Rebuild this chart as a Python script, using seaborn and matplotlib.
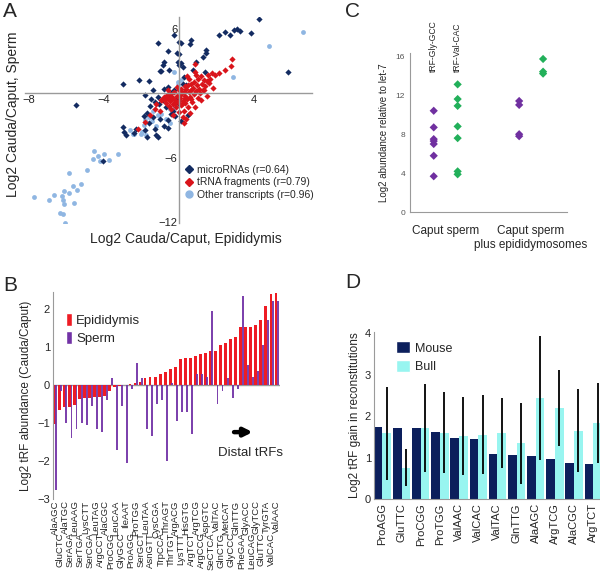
import numpy as np
import pandas as pd
import seaborn as sns
import matplotlib.pyplot as plt
from matplotlib.lines import Line2D
from matplotlib.patches import Patch

sns.set_style("white")
plt.rcParams['font.family'] = ['Liberation Sans', 'DejaVu Sans']

# === Panel A: log2 cauda/caput, epididymis (x) vs sperm (y)
mirna_x = [4.28, 2.15, 2.45, 2.72, 2.92, 3.10, 3.27, 3.84, 5.80, -0.28, -1.10, 0.02, 0.12, 0.64, 0.57,
           -0.57, -0.09, 0.02, -0.07, 0.10, 1.44, 1.44, 1.30, -0.78, -0.87, -0.96, -0.52, 0.02, 0.20, 0.91,
           0.73, 1.37, 0.28, -1.40, -0.78, 0.20, 0.37, -3.00, -2.15, -1.62, -1.00, -1.80, -0.60, -0.40, -5.49,
           -3.00, -2.91, -2.82, -2.29, -2.38, -1.80, -1.70, -1.60, -1.70, -1.88, -1.55, -1.36, -1.27, -1.20, -1.10,
           -1.00, -0.78, -0.60, -0.43, -0.30, -0.87, -1.05, -1.27, -1.10, -0.50, -4.04, -0.20, 0.10, -0.60, -0.15,
           0.00, -0.70, -1.50, 0.50, -0.25]
mirna_y = [6.88, 5.40, 5.70, 5.46, 5.90, 5.95, 5.80, 5.65, 2.00, 5.46, 4.70, 4.77, 4.72, 4.99, 4.62,
           3.94, 3.79, 3.65, 2.92, 2.80, 4.06, 3.75, 3.40, 2.92, 2.60, 2.08, 2.20, 2.60, 2.45, 2.92,
           2.14, 1.98, 1.52, 0.28, 0.44, 0.90, 0.75, 0.90, 1.27, 1.12, 2.05, -0.12, 0.60, 0.05, -1.12,
           -3.13, -3.60, -3.90, -3.28, -3.69, -3.40, -4.10, -2.80, -1.80, -2.10, -1.20, -2.20, -3.28, -3.90, -4.10,
           -2.35, -3.07, -2.50, -1.90, -1.60, -0.65, -0.96, -0.80, -0.30, -0.20, -6.33, -2.10, -2.60, -3.20, -0.50,
           -1.00, -1.30, -0.50, -2.00, 0.30]

trf_x = [2.85, 2.76, 2.45, 2.13, 1.90, 1.77, 1.55, 1.68, 1.50, 1.24, 1.37, 0.85, 0.85, 0.43, 0.55, 0.82,
         0.98, 1.08, 1.35, 1.80, 0.28, 0.64, 1.60, 1.33, 0.46,
         -0.90, -0.80, -0.70, -0.60, -0.55, -0.50, -0.45, -0.40, -0.35, -0.30, -0.25, -0.20, -0.15, -0.10,
         -0.05, 0.00, 0.05, 0.10, 0.15, 0.20, 0.25, 0.30, 0.35, 0.40, 0.45, 0.50, 0.55, 0.60, 0.70, 0.75,
         0.80, 0.90, 1.00, 1.10, 1.20, 1.30, 0.20, 0.27, 0.40, 0.60, -0.96, -1.20, -1.00, -0.30, 0.00, 0.85,
         1.50, 0.65, 0.30, -0.10, -0.60, 1.00, 1.20, 0.90, -2.16, -1.80, -1.55, -1.30,
         -0.65, -0.35, 0.05, 0.35, 0.15, -0.20, 0.65, -0.75, 0.10]
trf_y = [3.22, 2.51, 2.14, 1.89, 1.68, 1.89, 1.68, 1.37, 1.14, 0.83, 0.65, 2.76, 1.99, 1.58, 1.37, 1.05,
         0.74, 0.43, 0.28, 0.52, 0.12, 0.28, 0.96, 1.27, 0.74,
         -0.60, -0.30, -0.90, -0.40, -1.20, -0.10, -0.70, -1.50, -0.30, -1.00, 0.10, -0.60, -1.30, -0.20,
         -0.80, 0.30, -0.40, -1.10, 0.00, -0.70, -1.60, -0.20, -0.90, 0.40, -0.50, -1.30, 0.10, -0.30, -0.80, 0.50,
         -0.10, 0.20, -0.40, 0.00, -0.60, 0.30, -2.20, -2.80, -2.40, -1.80, -0.65, -1.00, -1.60, -2.00, -1.70, -1.30,
         -0.20, 0.90, 0.70, 0.60, 0.30, 1.30, 1.60, 1.70, -3.28, -2.66, -2.00, -1.50,
         -0.15, -0.55, -0.15, -0.45, -0.95, -0.90, -0.55, -0.60, 0.45]

other_x = [-4.55, -4.60, -4.30, -4.00, -4.20, -3.72, -3.24, -5.85, -4.91, -7.75, -6.91, -6.65, -6.26, -6.12,
           -6.20, -5.85, -6.15, -5.64, -5.45, -5.23, -5.57, -6.33, -6.17, -6.06,
           -1.60, -1.80, -1.88, -1.97, -1.77, -2.38, -2.47, -2.03, -1.36, -1.10, -0.96, -0.69, -0.45, -0.28,
           -0.20, -0.07, 0.10, -0.28, 2.88, 4.80, 6.60, -0.07, -1.20, -0.50, -1.45, -2.60]
other_y = [-5.37, -6.08, -5.86, -5.67, -6.30, -6.17, -5.61, -7.41, -7.16, -9.64, -9.95, -9.49, -9.58, -9.08,
           -9.95, -9.27, -10.32, -8.65, -9.02, -8.46, -10.20, -11.10, -11.20, -12.10,
           -2.20, -2.50, -2.98, -3.60, -3.90, -3.75, -3.75, -3.75, -1.60, -2.05, -1.90, -2.35, -1.50, -1.12,
           -1.30, 0.78, 1.24, 2.00, 1.52, 4.40, 5.70, 1.05, -3.00, -2.80, -2.60, -3.40]

# === Panel B: tRF abundance cauda/caput
trf_names = ["AlaAGC", "GluCTC", "AlaTGC", "SerAGA", "LeuAAG", "SerTGA", "LysCTT", "SerCGA", "LeuTAG",
             "ArgCCT", "AlaCGC", "ProCGG", "LeuCAA", "GlyGCC", "IleAAT", "ProAGG", "ProTGG", "SerGCT",
             "LeuTAA", "AsnGTT", "CysCGA", "TrpCCA", "ThrAGT", "ThrTGT", "ArgACG", "LysTTT", "HisGTG",
             "ArgTCT", "ArgTCG", "ArgCCG", "AspGTC", "SeCTCA", "ValTAC", "GlnCTG", "MetCAT", "GlyCCC",
             "GlnTTG", "PheGAA", "GlyACC", "LeuCAG", "GlyTCC", "GluTTC", "TyrGTA", "ValCAC", "ValAAC"]
epi_vals = [-1.03, -0.65, -0.58, -0.57, -0.53, -0.37, -0.35, -0.33, -0.32, -0.31, -0.30, -0.15, -0.06,
            -0.02, 0.00, 0.02, 0.05, 0.08, 0.17, 0.20, 0.22, 0.30, 0.35, 0.42, 0.47, 0.67, 0.70, 0.70,
            0.75, 0.82, 0.85, 0.90, 0.90, 1.05, 1.10, 1.20, 1.25, 1.52, 1.52, 1.52, 1.58, 1.70, 2.08,
            2.38, 2.42]
sperm_vals = [-2.75, -0.15, -1.00, -1.40, -1.15, -1.00, -1.05, -0.55, -1.15, -1.25, -0.40, 0.18, -1.70,
              -0.55, -2.05, -0.10, 0.58, 0.18, -1.15, -1.35, -0.50, -0.40, -2.00, 0.05, -0.95, -0.70,
              -0.70, -1.30, 0.28, 0.28, 0.20, 1.95, -0.50, -0.15, 0.18, -0.35, -0.10, 2.35, 0.52, 0.22,
              0.38, 1.05, 1.72, 2.20, 2.20]

# === Panel C: log2 abundance relative to let-7
conditions = ["Caput sperm", "Caput sperm\nplus epididymosomes"]
c_trfs = ["tRF-Gly-GCC", "tRF-Val-CAC"]
gly_caput = [10.4, 8.7, 7.5, 7.3, 7.0, 5.8, 3.7]
val_caput = [13.1, 11.6, 10.9, 8.8, 7.6, 4.2, 3.9]
gly_epi = [11.4, 11.0, 8.0, 7.8]
val_epi = [15.7, 14.4, 14.2]

# === Panel D: tRF gain in reconstitutions
d_names = ["ProAGG", "GluTTC", "ProCGG", "ProTGG", "ValAAC", "ValCAC", "ValTAC", "GlnTTG",
           "AlaAGC", "ArgTCG", "AlaCGC", "ArgTCT"]
mouse_gain = [1.73, 1.71, 1.71, 1.61, 1.46, 1.45, 1.09, 1.07, 1.04, 0.97, 0.86, 0.84]
bull_gain = [1.59, 0.76, 1.71, 1.60, 1.52, 1.55, 1.59, 1.34, 2.43, 2.19, 1.65, 1.83]
bull_err = [1.12, 0.44, 1.05, 0.97, 0.93, 0.95, 0.85, 0.97, 1.50, 0.91, 1.00, 0.96]

c_mirna, c_trf, c_other = "#132b61", "#d9141b", "#8fb6e2"
c_epi, c_sperm = "#ee1c24", "#7232a6"
c_gly, c_val = "#7030a0", "#22b05a"
c_mouse, c_bull = "#0c1f5c", "#98f5f0"
grey = "#9a9a9a"

fig = plt.figure(figsize=(6, 5.71), dpi=100)

# === A
axA = fig.add_axes([0.042, 0.609, 0.478, 0.361])
sns.scatterplot(x=other_x, y=other_y, color=c_other, marker='o', s=12, linewidth=0, ax=axA)
sns.scatterplot(x=mirna_x, y=mirna_y, color=c_mirna, marker='D', s=10, linewidth=0, ax=axA)
sns.scatterplot(x=trf_x, y=trf_y, color=c_trf, marker='D', s=10, linewidth=0, ax=axA)
axA.set_xlim(-8.2, 7.1)
axA.set_ylim(-12.1, 7.1)
for side in ['top', 'right']:
    axA.spines[side].set_visible(False)
axA.spines['left'].set_position(('data', 0))
axA.spines['bottom'].set_position(('data', 0))
for side in ['left', 'bottom']:
    axA.spines[side].set_color(grey)
    axA.spines[side].set_linewidth(1.0)
axA.set_xticks([-8, -4, 0, 4])
axA.set_yticks([6, -6, -12])
axA.tick_params(length=0, labelsize=8, pad=1, colors='#222222')
axA.set_xlabel("")
axA.set_ylabel("")
handles = [Line2D([], [], marker='D', ls='', color=c_mirna, markersize=4.5),
           Line2D([], [], marker='D', ls='', color=c_trf, markersize=4.5),
           Line2D([], [], marker='o', ls='', color=c_other, markersize=5)]
axA.legend(handles, ["microRNAs (r=0.64)", "tRNA fragments (r=0.79)", "Other transcripts (r=0.96)"],
           loc='upper left', bbox_to_anchor=(0.54, 0.31), frameon=False, fontsize=7.5,
           handlelength=0.8, handletextpad=0.3, labelspacing=0.25, borderpad=0)
fig.text(0.31, 0.582, "Log2 Cauda/Caput, Epididymis", ha='center', va='center', fontsize=10)
fig.text(0.021, 0.80, "Log2 Cauda/Caput, Sperm", ha='center', va='center', rotation=90, fontsize=10)

# === B
axB = fig.add_axes([0.088, 0.126, 0.378, 0.363])
n0 = len(axB.patches)
sns.barplot(x=trf_names, y=epi_vals, color=c_epi, width=0.55, saturation=1, errorbar=None,
            linewidth=0, ax=axB)
for p in axB.patches[n0:]:
    p.set_x(p.get_x() - 0.125)
n1 = len(axB.patches)
sns.barplot(x=trf_names, y=sperm_vals, color=c_sperm, width=0.38, saturation=1, errorbar=None,
            linewidth=0, ax=axB)
for p in axB.patches[n1:]:
    p.set_x(p.get_x() + 0.26)
    p.set_alpha(0.92)
axB.axhline(0, color=grey, lw=1.0, zorder=0)
axB.set_xlim(-0.45, 44.6)
axB.set_ylim(-3, 2.45)
axB.set_yticks([-3, -2, -1, 0, 1, 2])
axB.set_xticks(range(0, 45, 2), labels=trf_names[0::2], rotation=90, fontsize=6.8)
axB.set_xticks(range(1, 45, 2), labels=trf_names[1::2], minor=True, rotation=90, fontsize=6.8)
axB.tick_params(axis='x', which='both', length=0)
axB.tick_params(axis='x', which='major', pad=1)
axB.tick_params(axis='x', which='minor', pad=24)
axB.tick_params(axis='y', length=0, labelsize=8, pad=2)
for side in ['top', 'right', 'bottom']:
    axB.spines[side].set_visible(False)
axB.spines['left'].set_color(grey)
axB.set_ylabel("Log2 tRF abundance (Cauda/Caput)", fontsize=8.5)
axB.yaxis.set_label_coords(-0.09, 0.5)
axB.legend([Patch(facecolor=c_epi), Patch(facecolor=c_sperm)], ["Epididymis", "Sperm"],
           loc='upper left', bbox_to_anchor=(0.03, 0.93), frameon=False, fontsize=9.5,
           handlelength=0.45, handleheight=1.1, handletextpad=0.3, labelspacing=0.35, borderpad=0)
axB.annotate("", xy=(39.8, -1.24), xytext=(35.0, -1.24),
             arrowprops=dict(arrowstyle='-|>', lw=3.2, color='black', mutation_scale=12))
axB.text(38.8, -1.8, "Distal tRFs", ha='center', va='center', fontsize=9.5)

# === C
axC = fig.add_axes([0.683, 0.628, 0.262, 0.279])
rows = []
for cond, trf, vals in [(conditions[0], c_trfs[0], gly_caput), (conditions[0], c_trfs[1], val_caput),
                        (conditions[1], c_trfs[0], gly_epi), (conditions[1], c_trfs[1], val_epi)]:
    for v in vals:
        rows.append({'cond': cond, 'trf': trf, 'value': v})
dfC = pd.DataFrame(rows)
sns.stripplot(data=dfC, x='cond', y='value', hue='trf', order=conditions, hue_order=c_trfs,
              dodge=True, jitter=False, marker='D', size=4.2, linewidth=0,
              palette=[c_gly, c_val], legend=False, ax=axC)
for coll in axC.collections:
    off = coll.get_offsets()
    if len(off):
        center = np.round(off[:, 0])
        off[:, 0] = center + (off[:, 0] - center) * 0.7
        coll.set_offsets(off)
axC.set_xlim(-0.42, 1.42)
axC.set_ylim(0, 16.3)
axC.set_yticks([0, 4, 8, 12, 16])
for side in ['top', 'right']:
    axC.spines[side].set_visible(False)
for side in ['left', 'bottom']:
    axC.spines[side].set_color(grey)
axC.tick_params(axis='y', length=2.5, width=0.8, color=grey, labelsize=6, labelcolor='#555555', pad=1)
axC.tick_params(axis='x', length=0, labelsize=8.5, pad=9)
axC.set_xlabel("")
axC.set_ylabel("Log2 abundance relative to let-7", fontsize=7)
axC.yaxis.set_label_coords(-0.134, 0.5)
for xpos, name in zip([-0.14, 0.14], c_trfs):
    axC.text(xpos, 14.4, name, rotation=90, ha='center', va='bottom', fontsize=6.2, clip_on=False)

# === D
axD = fig.add_axes([0.623, 0.126, 0.377, 0.293])
dfD = pd.DataFrame({'trf': d_names * 2,
                    'species': ['Mouse'] * len(d_names) + ['Bull'] * len(d_names),
                    'gain': mouse_gain + bull_gain})
sns.barplot(data=dfD, x='trf', y='gain', hue='species', hue_order=['Mouse', 'Bull'],
            palette=[c_mouse, c_bull], width=0.9, saturation=1, errorbar=None, legend=False,
            linewidth=0, ax=axD)
bull_bars = axD.containers[1]
xs = [p.get_x() + p.get_width() / 2 for p in bull_bars]
axD.errorbar(xs, bull_gain, yerr=bull_err, fmt='none', ecolor='black', elinewidth=1.3, capsize=0)
axD.set_xlim(-0.45, 11.35)
axD.set_ylim(0, 4.03)
axD.set_yticks([0, 1, 2, 3, 4])
axD.tick_params(axis='x', length=0, labelsize=8, rotation=90, pad=3)
axD.tick_params(axis='y', length=0, labelsize=8, pad=2)
for side in ['top', 'right']:
    axD.spines[side].set_visible(False)
for side in ['left', 'bottom']:
    axD.spines[side].set_color(grey)
axD.set_xlabel("")
axD.set_ylabel("Log2 tRF gain in reconstitutions", fontsize=8.5, labelpad=3)
axD.legend([Patch(facecolor=c_mouse), Patch(facecolor=c_bull)], ["Mouse", "Bull"],
           loc='upper left', bbox_to_anchor=(0.07, 0.98), frameon=False, fontsize=9,
           handlelength=1.1, handleheight=1.1, handletextpad=0.4, labelspacing=0.45, borderpad=0)

# === panel letters
for x, y, s in [(0.005, 0.997, "A"), (0.005, 0.517, "B"), (0.575, 0.997, "C"), (0.575, 0.522, "D")]:
    fig.text(x, y, s, ha='left', va='top', fontsize=15)

fig.savefig("out.png", dpi=100)
